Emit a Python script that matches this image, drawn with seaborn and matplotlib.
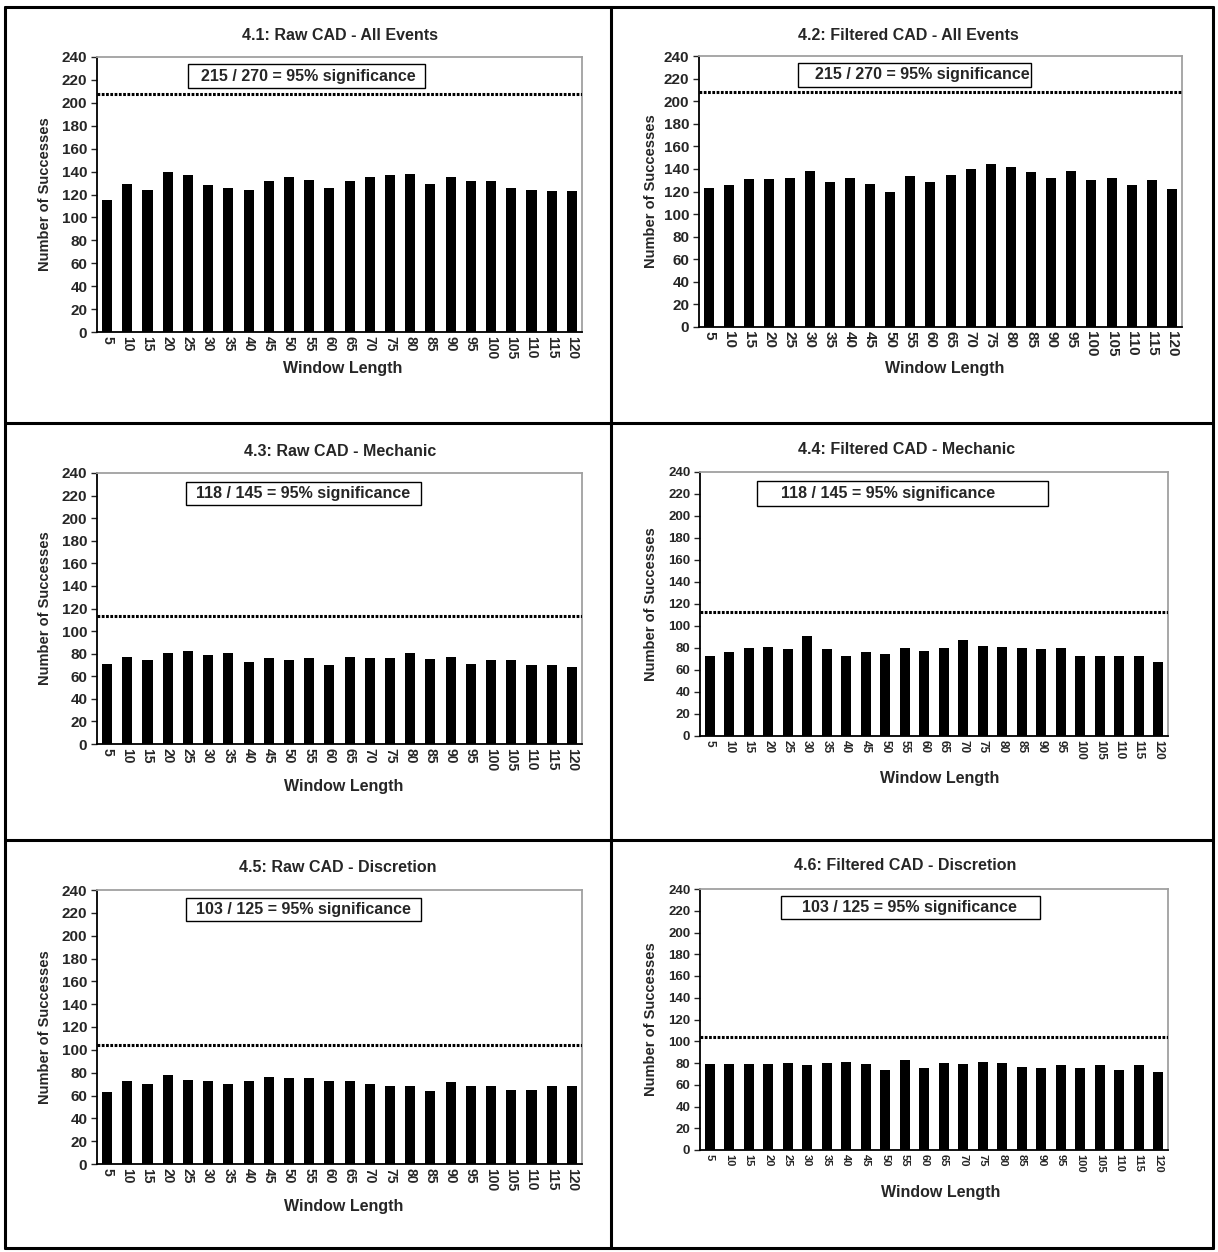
import matplotlib
matplotlib.use("Agg")
import matplotlib.pyplot as plt
import pandas as pd
import seaborn as sns
from matplotlib.lines import Line2D
from matplotlib.patches import Rectangle

# Data
window = [5, 10, 15, 20, 25, 30, 35, 40, 45, 50, 55, 60,
          65, 70, 75, 80, 85, 90, 95, 100, 105, 110, 115, 120]

raw_all = [115, 129, 124, 140, 137, 128, 126, 124, 132, 135, 133, 126,
           132, 135, 137, 138, 129, 135, 132, 132, 126, 124, 123, 123]
filt_all = [123, 126, 131, 131, 132, 138, 128, 132, 127, 120, 134, 128,
            135, 140, 144, 142, 137, 132, 138, 130, 132, 126, 130, 122]
raw_mech = [71, 77, 74, 81, 82, 79, 81, 73, 76, 74, 76, 70,
            77, 76, 76, 81, 75, 77, 71, 74, 74, 70, 70, 68]
filt_mech = [73, 76, 80, 81, 79, 91, 79, 73, 76, 75, 80, 77,
             80, 87, 82, 81, 80, 79, 80, 73, 73, 73, 73, 67]
raw_disc = [63, 73, 70, 78, 74, 73, 70, 73, 76, 75, 75, 73,
            73, 70, 68, 68, 64, 72, 68, 68, 65, 65, 68, 68]
filt_disc = [79, 79, 79, 79, 80, 78, 80, 81, 79, 74, 83, 75,
             80, 79, 81, 80, 76, 75, 78, 75, 78, 74, 78, 72]

thresholds = [208, 208, 113, 113, 104, 104]
titles = ["4.1: Raw CAD - All Events", "4.2: Filtered CAD - All Events",
          "4.3: Raw CAD - Mechanic", "4.4: Filtered CAD - Mechanic",
          "4.5: Raw CAD - Discretion", "4.6: Filtered CAD - Discretion"]
notes = ["215 / 270 = 95% significance", "215 / 270 = 95% significance",
         "118 / 145 = 95% significance", "118 / 145 = 95% significance",
         "103 / 125 = 95% significance", "103 / 125 = 95% significance"]
series = [raw_all, filt_all, raw_mech, filt_mech, raw_disc, filt_disc]

W, H = 1218, 1252

# layout in pixels: axes (l, r, t, b), title (x, y), ylabel x, xlabel (x, y),
# note box (l, r, t, b), note text x, tick font sizes (x, y)
layout = [
    dict(axes=(97, 582, 57, 332), title=(340, 35), ylab=45, xlab=(343, 369),
         box=(188, 425, 64, 88), notex=308, fs=(10, 11)),
    dict(axes=(699, 1182, 56, 327), title=(908, 35), ylab=651, xlab=(945, 369),
         box=(798, 1031, 63, 87), notex=922, fs=(11, 11)),
    dict(axes=(97, 582, 473, 744), title=(340, 451), ylab=45, xlab=(344, 786),
         box=(186, 421, 482, 505), notex=303, fs=(10, 11)),
    dict(axes=(700, 1168, 472, 736), title=(907, 450), ylab=651, xlab=(940, 778),
         box=(757, 1048, 481, 506), notex=888, fs=(8.5, 9.5)),
    dict(axes=(97, 582, 890, 1164), title=(338, 867), ylab=45, xlab=(344, 1206),
         box=(186, 421, 898, 921), notex=303, fs=(10, 11)),
    dict(axes=(700, 1168, 889, 1150), title=(905, 865), ylab=651, xlab=(941, 1193),
         box=(781, 1040, 896, 919), notex=909, fs=(8, 9.5)),
]

sns.set_style("white")
plt.rcParams['font.family'] = ['Liberation Sans', 'DejaVu Sans']
plt.rcParams['font.weight'] = 'bold'


def fx(x):
    return x / W


def fy(y):
    return 1 - y / H


def draw_panel(fig, values, threshold, title, note, lay):
    l, r, t, b = lay['axes']
    ax = fig.add_axes([fx(l), fy(b), (r - l) / W, (b - t) / H])
    df = pd.DataFrame({'window': [str(w) for w in window], 'successes': values})
    sns.barplot(data=df, x='window', y='successes', color='black', saturation=1,
                width=0.5, edgecolor='black', linewidth=0, ax=ax)
    ax.axhline(threshold, color='black', lw=2.2, ls=(0, (0.9, 0.5)), zorder=3)
    ax.set_xlim(-0.5, len(window) - 0.5)
    ax.set_ylim(0, 240)
    ax.set_yticks(range(0, 241, 20))
    ax.set_xlabel('')
    ax.set_ylabel('')
    fsx, fsy = lay['fs']
    ax.tick_params(axis='x', length=0, pad=3, labelrotation=-90, labelsize=fsx)
    ax.tick_params(axis='y', length=4, width=1, pad=3, labelsize=fsy, direction='out', left=True)
    for lab in ax.get_xticklabels() + ax.get_yticklabels():
        lab.set_fontweight('bold')
    for side in ['left', 'bottom']:
        ax.spines[side].set_color('black')
        ax.spines[side].set_linewidth(1.3)
    for side in ['top', 'right']:
        ax.spines[side].set_color('#a0a0a0')
        ax.spines[side].set_linewidth(1.3)

    fig.text(fx(lay['title'][0]), fy(lay['title'][1]), title, ha='center', va='center',
             fontsize=11.5, fontweight='bold')
    fig.text(fx(lay['ylab']), fy((t + b) / 2), 'Number of Successes', rotation=90,
             ha='center', va='center', fontsize=10.5, fontweight='bold')
    fig.text(fx(lay['xlab'][0]), fy(lay['xlab'][1]), 'Window Length', ha='center',
             va='center', fontsize=11.5, fontweight='bold')
    bl, br, bt, bb = lay['box']
    fig.add_artist(Rectangle((fx(bl), fy(bb)), (br - bl) / W, (bb - bt) / H,
                             transform=fig.transFigure, facecolor='white',
                             edgecolor='black', lw=1, zorder=5))
    fig.text(fx(lay['notex']), fy((bt + bb) / 2), note, ha='center', va='center',
             fontsize=11.5, fontweight='bold', zorder=6)
    return ax


fig = plt.figure(figsize=(W / 100, H / 100), dpi=100)
fig.patch.set_facecolor('white')

for vals, thr, ttl, note, lay in zip(series, thresholds, titles, notes, layout):
    draw_panel(fig, vals, thr, ttl, note, lay)

# table grid around the charts
grid_lw = 2.2
for x in [5, 611, 1213]:
    fig.add_artist(Line2D([fx(x), fx(x)], [fy(7), fy(1248)], color='black', lw=grid_lw))
for y in [7, 423, 840, 1248]:
    fig.add_artist(Line2D([fx(5), fx(1213)], [fy(y), fy(y)], color='black', lw=grid_lw))

fig.savefig('out.png', dpi=100)
